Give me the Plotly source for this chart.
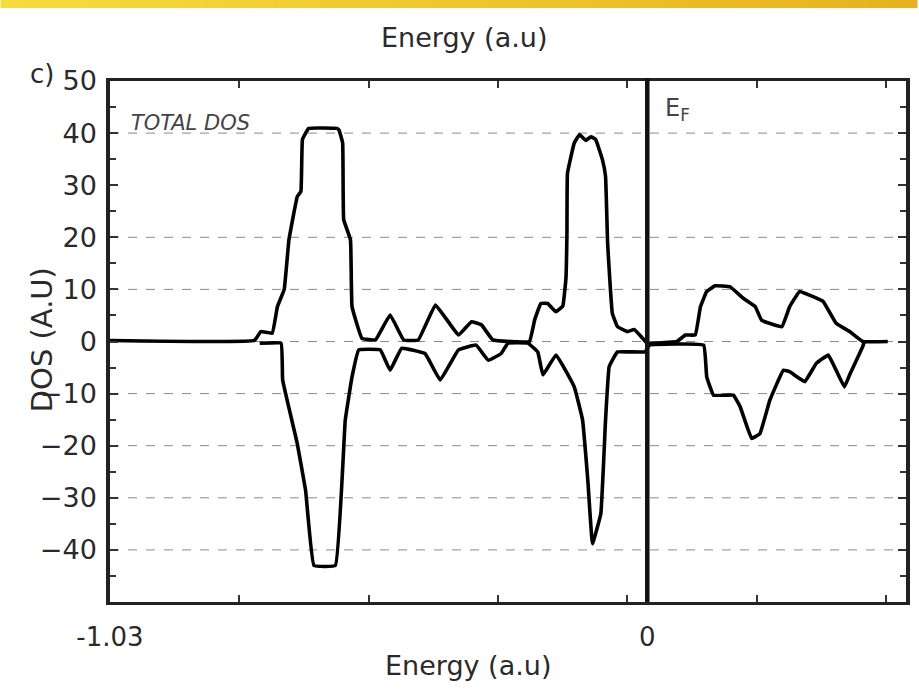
import plotly.graph_objects as go

# ---- data (energy in a.u., DOS in A.U) ----
up_energy = [-1.030, -0.753, -0.741, -0.719, -0.709, -0.696, -0.687, -0.671, -0.664, -0.661,
             -0.649, -0.595, -0.591, -0.584, -0.582, -0.569, -0.566, -0.547, -0.521, -0.493,
             -0.467, -0.439, -0.406, -0.362, -0.337, -0.318, -0.296, -0.226, -0.216, -0.204,
             -0.191, -0.175, -0.162, -0.156, -0.154, -0.153, -0.140, -0.130, -0.118, -0.108,
             -0.099, -0.086, -0.080, -0.076, -0.067, -0.057, -0.038, -0.025, -0.006, 0.000,
             0.057, 0.073, 0.092, 0.102, 0.114, 0.130, 0.159, 0.184, 0.207, 0.219,
             0.258, 0.273, 0.292, 0.311, 0.337, 0.362, 0.388, 0.413, 0.461]
up_dos = [0.2, 0.2, 1.9, 1.6, 6.7, 10.0, 19.5, 27.8, 28.8, 38.8,
          40.9, 40.9, 40.6, 38.1, 23.4, 19.5, 6.7, 0.6, 0.3, 5.1,
          0.3, 0.3, 7.0, 1.25, 3.8, 3.2, 0.3, 0.0, 4.1, 7.3,
          7.3, 5.7, 6.8, 12.0, 20.8, 32.3, 38.1, 39.7, 38.6, 39.3,
          38.8, 34.9, 31.7, 18.9, 5.4, 2.85, 1.9, 2.3, 0.3, -0.35,
          0.0, 1.25, 1.25, 6.7, 9.6, 10.7, 10.5, 8.3, 6.7, 4.1,
          2.85, 6.7, 9.6, 8.9, 7.7, 3.5, 1.9, 0.0, 0.0]

down_energy = [-0.743, -0.702, -0.699, -0.671, -0.655, -0.639, -0.598, -0.579, -0.566, -0.553,
               -0.512, -0.493, -0.471, -0.426, -0.397, -0.362, -0.328, -0.305, -0.280, -0.267,
               -0.229, -0.210, -0.200, -0.175, -0.140, -0.124, -0.114, -0.105, -0.089, -0.080,
               -0.073, -0.057, -0.004, 0.004, 0.108, 0.114, 0.127, 0.165, 0.178, 0.200,
               0.216, 0.235, 0.261, 0.273, 0.302, 0.324, 0.347, 0.362, 0.378, 0.388,
               0.413, 0.416]
down_dos = [-0.35, -0.35, -7.4, -19.6, -28.6, -43.0, -43.0, -15.1, -6.8, -1.6,
            -1.6, -5.5, -1.3, -2.3, -7.4, -1.6, -0.7, -3.6, -2.3, -0.3,
            -0.3, -2.0, -6.4, -2.6, -8.7, -15.1, -26.6, -38.8, -33.0, -15.1,
            -4.8, -2.0, -2.0, -0.7, -0.7, -6.8, -10.3, -10.3, -12.5, -18.6,
            -17.7, -11.25, -5.5, -5.8, -7.7, -4.2, -2.6, -5.5, -8.7, -6.4,
            -1.0, 0.0]

y_tick_values = [-40, -30, -20, -10, 0, 10, 20, 30, 40, 50]
x_tick_values = [-1.03, 0]
x_tick_labels = ["-1.03", "0"]
grid_levels = [40, 20, 10, 0, -10, -20, -30, -40]
fermi_energy = 0

FONT = "DejaVu Sans"
TXT = "#2a2a2a"

fig = go.Figure()
fig.add_trace(go.Scatter(x=up_energy, y=up_dos, mode="lines",
                         line=dict(color="black", width=3.6, shape="spline", smoothing=0.25),
                         showlegend=False))
fig.add_trace(go.Scatter(x=down_energy, y=down_dos, mode="lines",
                         line=dict(color="black", width=3.6, shape="spline", smoothing=0.25),
                         showlegend=False))

shapes = []
# yellow gradient strip at the top of the page
n = 40
c0 = (247, 220, 62)
c1 = (230, 178, 35)
for i in range(n):
    t = i / (n - 1)
    col = "rgb(%d,%d,%d)" % tuple(int(a + (b - a) * t) for a, b in zip(c0, c1))
    shapes.append(dict(type="rect", xref="paper", yref="paper",
                       x0=-0.1375 + i * (1.15 / n), x1=-0.1375 + (i + 1) * (1.15 / n) + 0.002,
                       y0=1.140, y1=1.20, line=dict(width=0), fillcolor=col, layer="above"))
# dashed horizontal grid lines
for g in grid_levels:
    shapes.append(dict(type="line", xref="paper", yref="y", x0=0, x1=1, y0=g, y1=g,
                       line=dict(color="#8a8a8a", width=1, dash="dash"), layer="below"))
# Fermi level line
shapes.append(dict(type="line", xref="x", yref="paper", x0=fermi_energy, x1=fermi_energy,
                   y0=0, y1=1.005, line=dict(color="#111", width=4.5)))

annotations = [
    dict(text="Energy (a.u)", x=0.445, y=1.083, xref="paper", yref="paper", showarrow=False,
         font=dict(family=FONT, size=27, color=TXT), xanchor="center", yanchor="middle"),
    dict(text="Energy (a.u)", x=0.45, y=-0.121, xref="paper", yref="paper", showarrow=False,
         font=dict(family=FONT, size=27, color=TXT), xanchor="center", yanchor="middle"),
    dict(text="c)", x=-0.085, y=1.014, xref="paper", yref="paper", showarrow=False,
         font=dict(family=FONT, size=26, color=TXT), xanchor="center", yanchor="middle"),
    dict(text="DOS (A.U)", x=-0.085, y=0.503, xref="paper", yref="paper", showarrow=False,
         textangle=-90, font=dict(family=FONT, size=29, color=TXT),
         xanchor="center", yanchor="middle"),
    dict(text="<i>TOTAL DOS</i>", x=0.024, y=0.919, xref="paper", yref="paper", showarrow=False,
         font=dict(family=FONT, size=21, color="#444"), xanchor="left", yanchor="middle"),
    dict(text="E<sub>F</sub>", x=0.695, y=0.945, xref="paper", yref="paper", showarrow=False,
         font=dict(family=FONT, size=24, color="#444"), xanchor="left", yanchor="middle"),
]

fig.update_layout(
    width=919, height=690,
    margin=dict(l=110, r=9, t=81, b=88),
    paper_bgcolor="white", plot_bgcolor="white",
    shapes=shapes, annotations=annotations,
    xaxis=dict(range=[-1.03, 0.496], tickmode="array", tickvals=x_tick_values,
               ticktext=x_tick_labels, ticks="inside", ticklen=0, showgrid=False,
               zeroline=False, showline=True, linecolor="#222", linewidth=3, mirror="ticks",
               tickfont=dict(family=FONT, size=26, color=TXT), ticklabelstandoff=10,
               minor=dict(tickmode="linear", tick0=-1.03, dtick=0.248, ticks="inside",
                          ticklen=7, tickcolor="#333", tickwidth=2, showgrid=False)),
    yaxis=dict(range=[-50, 50], tickmode="array", tickvals=y_tick_values,
               ticks="inside", ticklen=8, tickwidth=2, tickcolor="#333", showgrid=False,
               zeroline=False, showline=True, linecolor="#222", linewidth=3.5, mirror="ticks",
               tickfont=dict(family=FONT, size=27, color=TXT), ticklabelstandoff=4,
               minor=dict(tickmode="linear", tick0=0, dtick=5, ticks="inside",
                          ticklen=6, tickcolor="#333", tickwidth=2, showgrid=False)),
)

fig.write_html("out.html")
